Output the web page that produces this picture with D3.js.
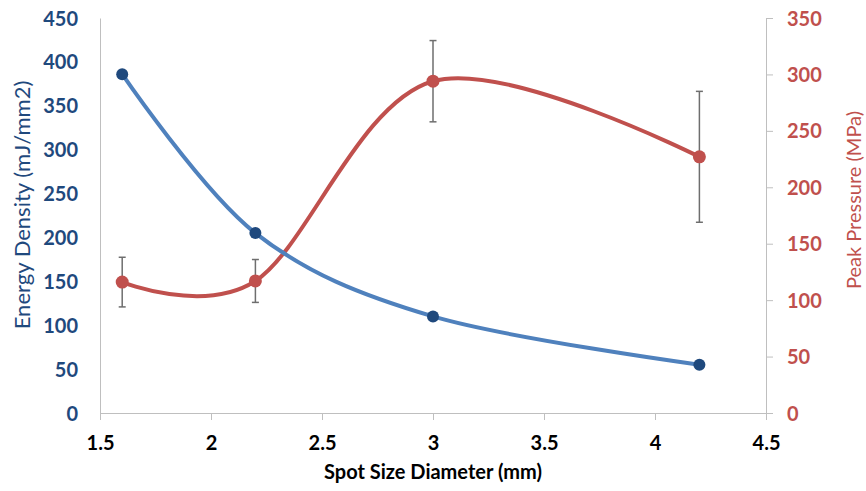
<!DOCTYPE html>
<html>
<head>
<meta charset="utf-8">
<script src="https://cdn.jsdelivr.net/npm/d3@7"></script>
<style>
  body { margin: 0; background: #fff; }
  svg { font-family: Lato, "Open Sans", sans-serif; }
</style>
</head>
<body>
<script>
var spotSize = [1.6, 2.2, 3, 4.2],
    energyDensity = [386, 205, 110, 55],
    peakPressure = [116, 117, 294, 227],
    pressureError = [22, 19, 36, 58],
    xTicks = [1.5, 2, 2.5, 3, 3.5, 4, 4.5],
    leftTicks = [0, 50, 100, 150, 200, 250, 300, 350, 400, 450],
    rightTicks = [0, 50, 100, 150, 200, 250, 300, 350];

var width = 866, height = 491,
    margin = {left: 100, right: 100, top: 18, bottom: 78},
    blue = "#4f81bd", blueDark = "#1f497d", red = "#c0504d", axisGrey = "#bfbfbf";

var x = d3.scaleLinear().domain([1.5, 4.5]).range([margin.left, width - margin.right]);
var yL = d3.scaleLinear().domain([0, 450]).range([height - margin.bottom, margin.top]);
var yR = d3.scaleLinear().domain([0, 350]).range([height - margin.bottom, margin.top]);

var svg = d3.select("body").append("svg").attr("width", width).attr("height", height);

// axes
var xAxis = svg.append("g").attr("transform", "translate(0," + yL(0) + ")")
  .call(d3.axisBottom(x).tickValues(xTicks).tickSize(7).tickSizeOuter(0).tickPadding(16).tickFormat(d3.format("")));
var leftAxis = svg.append("g").attr("transform", "translate(" + margin.left + ",0)")
  .call(d3.axisLeft(yL).tickValues(leftTicks).tickSize(0).tickPadding(22));
var rightAxis = svg.append("g").attr("transform", "translate(" + (width - margin.right) + ",0)")
  .call(d3.axisRight(yR).tickValues(rightTicks).tickSize(7).tickSizeOuter(0).tickPadding(14));

[xAxis, leftAxis, rightAxis].forEach(function (g) {
  g.select(".domain").attr("stroke", axisGrey);
  g.selectAll(".tick line").attr("stroke", axisGrey);
  g.selectAll("text").attr("font-size", 20).attr("font-weight", "bold").attr("font-family", "Lato");
});
xAxis.selectAll("text").attr("fill", "#000");
leftAxis.selectAll("text").attr("fill", blueDark).attr("dy", "0.35em");
rightAxis.selectAll("text").attr("fill", red).attr("dy", "0.35em");

// titles
svg.append("text").attr("x", (x.range()[0] + x.range()[1]) / 2).attr("y", 479)
  .attr("text-anchor", "middle").attr("font-size", 20).attr("font-weight", "bold").text("Spot Size Diameter (mm)");
svg.append("text").attr("transform", "translate(30,205) rotate(-90)")
  .attr("text-anchor", "middle").attr("font-size", 22).attr("fill", blueDark).text("Energy Density (mJ/mm2)");
svg.append("text").attr("transform", "translate(861,200) rotate(-90)")
  .attr("text-anchor", "middle").attr("font-size", 20).attr("fill", red).text("Peak Pressure (MPa)");

var curve = d3.curveCardinal.tension(0);

// pressure series
var pressureLine = d3.line().x(function (d, i) { return x(spotSize[i]); }).y(function (d) { return yR(d); }).curve(curve);
svg.append("path").attr("d", pressureLine(peakPressure)).attr("fill", "none").attr("stroke", red).attr("stroke-width", 4);

var err = svg.append("g").attr("stroke", "#6e6e6e").attr("stroke-width", 1.5);
peakPressure.forEach(function (d, i) {
  var cx = x(spotSize[i]), top = yR(d + pressureError[i]), bot = yR(d - pressureError[i]);
  err.append("line").attr("x1", cx).attr("x2", cx).attr("y1", top).attr("y2", bot);
  err.append("line").attr("x1", cx - 3.5).attr("x2", cx + 3.5).attr("y1", top).attr("y2", top);
  err.append("line").attr("x1", cx - 3.5).attr("x2", cx + 3.5).attr("y1", bot).attr("y2", bot);
});

svg.append("g").selectAll("circle").data(peakPressure).join("circle")
  .attr("cx", function (d, i) { return x(spotSize[i]); }).attr("cy", function (d) { return yR(d); })
  .attr("r", 6.5).attr("fill", red);

// energy series
var energyLine = d3.line().x(function (d, i) { return x(spotSize[i]); }).y(function (d) { return yL(d); }).curve(curve);
svg.append("path").attr("d", energyLine(energyDensity)).attr("fill", "none").attr("stroke", blue).attr("stroke-width", 4);

svg.append("g").selectAll("circle").data(energyDensity).join("circle")
  .attr("cx", function (d, i) { return x(spotSize[i]); }).attr("cy", function (d) { return yL(d); })
  .attr("r", 6).attr("fill", blueDark);
</script>
</body>
</html>
